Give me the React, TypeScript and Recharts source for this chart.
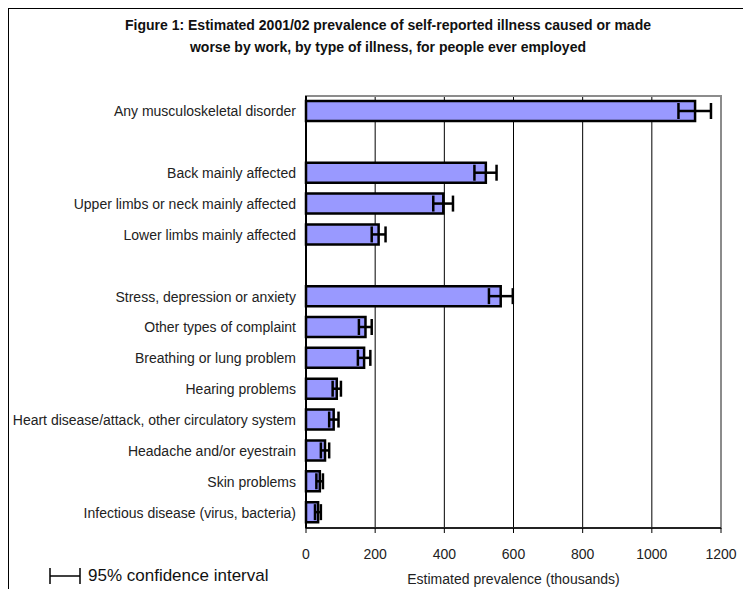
import React from 'react'
import {
  BarChart,
  Bar,
  XAxis,
  YAxis,
  CartesianGrid,
  ErrorBar,
  ReferenceArea,
  Legend,
} from 'recharts'

// illness types, top to bottom (blank entries are the gaps between groups)
const categories = [
  'Any musculoskeletal disorder',
  '',
  'Back mainly affected',
  'Upper limbs or neck mainly affected',
  'Lower limbs mainly affected',
  ' ',
  'Stress, depression or anxiety',
  'Other types of complaint',
  'Breathing or lung problem',
  'Hearing problems',
  'Heart disease/attack, other circulatory system',
  'Headache and/or eyestrain',
  'Skin problems',
  'Infectious disease (virus, bacteria)',
]

// estimated prevalence (thousands)
const estimates = [1125, null, 520, 397, 210, null, 563, 172, 168, 89, 80, 55, 40, 35]
// 95% confidence interval bounds
const lowerCI = [1077, null, 487, 368, 190, null, 529, 153, 150, 77, 67, 43, 30, 26]
const upperCI = [1171, null, 551, 425, 230, null, 598, 190, 186, 101, 94, 67, 49, 43]

const xTicks = [0, 200, 400, 600, 800, 1000, 1200]

const data = categories.map((name, i) => {
  const v = estimates[i]
  return {
    name,
    value: v,
    ci: v == null ? null : [v - (lowerCI[i] as number), (upperCI[i] as number) - v],
  }
})

const font = '"Liberation Sans", Arial, sans-serif'

function LegendContent() {
  return (
    <div style={{ display: 'flex', alignItems: 'center', fontFamily: font }}>
      <svg width={34} height={20}>
        <line x1={2} y1={10} x2={32} y2={10} stroke="#000" strokeWidth={1.5} />
        <line x1={2} y1={2} x2={2} y2={18} stroke="#000" strokeWidth={1.5} />
        <line x1={32} y1={2} x2={32} y2={18} stroke="#000" strokeWidth={1.5} />
      </svg>
      <span style={{ fontSize: 17, color: '#111', marginLeft: 6 }}>95% confidence interval</span>
    </div>
  )
}

export default function App() {
  return (
    <div
      style={{
        position: 'relative',
        margin: -8,
        width: 751,
        height: 597,
        overflow: 'hidden',
        background: '#FFFFCC',
      }}
    >
      <div
        style={{
          position: 'absolute',
          left: 7,
          top: 7,
          width: 800,
          height: 700,
          background: '#fff',
          border: '2px solid #000',
        }}
      />
      <div
        style={{
          position: 'absolute',
          left: 0,
          top: 14,
          width: 776,
          textAlign: 'center',
          fontFamily: font,
          fontWeight: 'bold',
          fontSize: 14,
          lineHeight: '22px',
          color: '#111',
        }}
      >
        Figure 1: Estimated 2001/02 prevalence of self-reported illness caused or made
        <br />
        worse by work, by type of illness, for people ever employed
      </div>
      <div style={{ position: 'absolute', left: 0, top: 0 }}>
        <BarChart
          width={751}
          height={597}
          data={data}
          layout="vertical"
          margin={{ top: 96, right: 30, left: 0, bottom: 9 }}
          style={{ fontFamily: font }}
        >
          <CartesianGrid horizontal={false} stroke="#000" strokeWidth={1} />
          <ReferenceArea x1={0} x2={1200} fill="none" stroke="#8c8c8c" strokeWidth={2} ifOverflow="visible" />
          <XAxis
            type="number"
            domain={[0, 1200]}
            ticks={xTicks}
            interval={0}
            height={60}
            axisLine={{ stroke: '#000', strokeWidth: 1.5 }}
            tickLine={{ stroke: '#000' }}
            tickSize={5}
            tickMargin={16}
            tick={{ fill: '#222', fontSize: 14 }}
            label={{
              value: 'Estimated prevalence (thousands)',
              position: 'insideBottom',
              offset: 4,
              fill: '#222',
              fontSize: 14,
            }}
          />
          <YAxis
            type="category"
            dataKey="name"
            width={306}
            interval={0}
            axisLine={{ stroke: '#000', strokeWidth: 2 }}
            tickLine={false}
            tickSize={8}
            tickMargin={2}
            tick={{ fill: '#222', fontSize: 14 }}
          />
          <Bar
            dataKey="value"
            fill="#9999FF"
            stroke="#000"
            strokeWidth={2.5}
            barSize={20}
            isAnimationActive={false}
          >
            <ErrorBar dataKey="ci" direction="x" width={8} stroke="#000" strokeWidth={2.5} />
          </Bar>
          <Legend
            layout="horizontal"
            verticalAlign="middle"
            align="center"
            content={<LegendContent />}
            wrapperStyle={{ position: 'absolute', left: 48, top: 566, width: 260, bottom: 'auto' }}
          />
        </BarChart>
      </div>
    </div>
  )
}
